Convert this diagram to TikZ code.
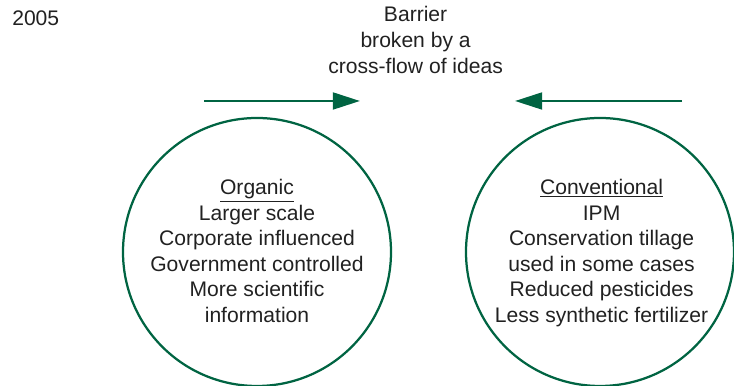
\documentclass[tikz,border=0pt]{standalone}
\usepackage{fontspec}
\setmainfont{Liberation Sans}
\usepackage[]{xcolor}
\usepackage{tikz}
\usetikzlibrary{arrows.meta}

\definecolor{leafgreen}{RGB}{0,100,66}
\definecolor{inkgray}{gray}{0.13}

\begin{document}
\begin{tikzpicture}[
    every node/.style={text=inkgray, inner sep=0pt,
        font=\fontsize{15}{18.2}\selectfont},
    ring/.style={draw=leafgreen, line width=1.6pt},
    flow/.style={draw=leafgreen, line width=1.9pt,
        -{Triangle[length=0.68cm,width=0.42cm]}},
    listing/.style={align=center, anchor=north}
]
    \useasboundingbox (0,0) rectangle (18.35,9.65);

    \node[anchor=base west] (year) at (0.3,9.0) {2005};
    \node[listing] (barrier) at (10.39,9.49)
        {Barrier\\broken by a\\cross-flow of ideas};

    % the two camps
    \draw[ring]     (6.425,3.35) circle (3.35);
    \draw[ring]     (15.0,3.35) circle (3.35);
    \node[listing] (organic) at (6.425,5.175)
        {\underline{Organic}\\Larger scale\\Corporate influenced\\
         Government controlled\\More scientific\\information};
    \node[listing] (conventional) at (15.04,5.175)
        {\underline{Conventional}\\IPM\\Conservation tillage\\
         used in some cases\\Reduced pesticides\\Less synthetic fertilizer};

    % cross-flow
    \coordinate (orgFrom) at (5.1,7.125);
    \coordinate (orgTo)   at (9.0,7.125);
    \coordinate (conFrom) at (17.05,7.125);
    \coordinate (conTo)   at (12.875,7.125);
    \draw[flow]     (orgFrom) -- (orgTo);
    \draw[flow]     (conFrom) -- (conTo);
\end{tikzpicture}
\end{document}
